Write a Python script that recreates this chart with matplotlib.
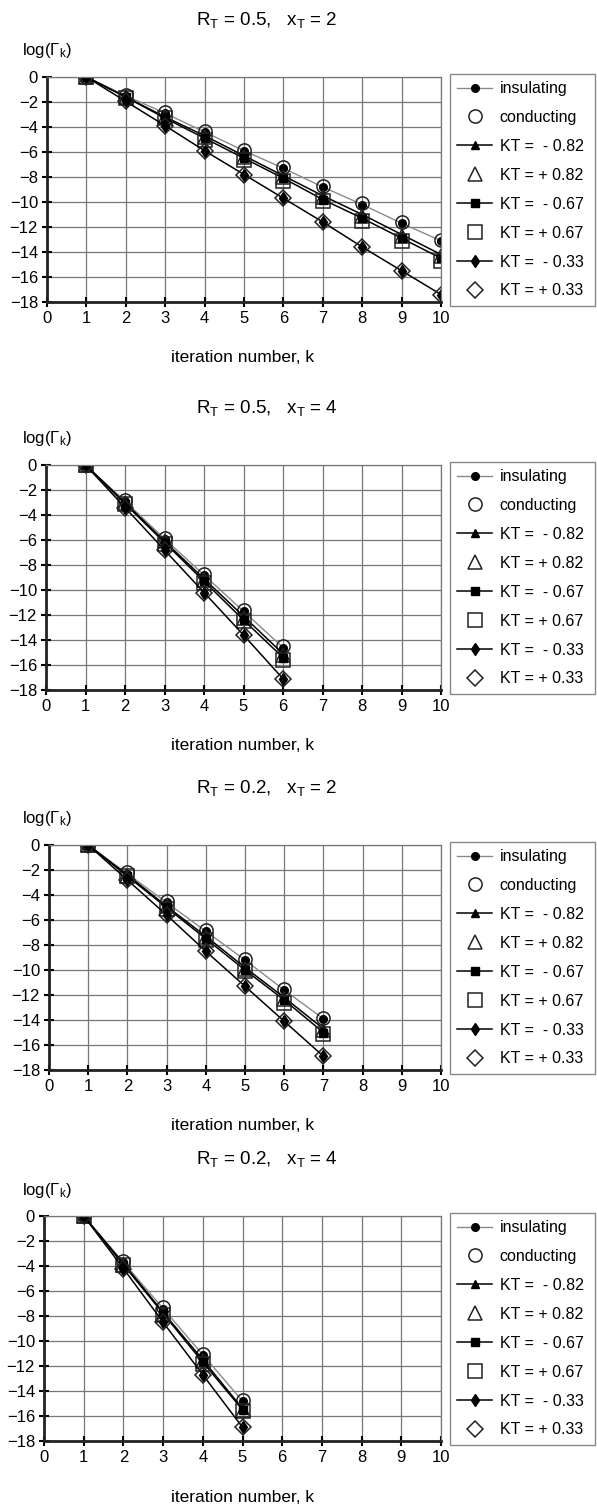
import matplotlib
matplotlib.use("Agg")
import matplotlib.pyplot as plt

plt.rcParams['font.family'] = ['Liberation Sans', 'DejaVu Sans']
plt.rcParams['mathtext.fontset'] = 'custom'
plt.rcParams['mathtext.rm'] = 'Liberation Sans'
plt.rcParams['mathtext.it'] = 'Liberation Sans'

# panel titles (R_T, x_T)
titles = [("0.5", "2"), ("0.5", "4"), ("0.2", "2"), ("0.2", "4")]

# log(Gamma_k) per iteration k = 1, 2, ... for each panel
insulating = [
    [0, -1.5, -2.9, -4.4, -5.9, -7.3, -8.8, -10.2, -11.7, -13.1],
    [0, -2.9, -5.9, -8.8, -11.7, -14.6],
    [0, -2.3, -4.6, -6.9, -9.2, -11.6, -13.9],
    [0, -3.7, -7.4, -11.1, -14.8],
]
conducting = [
    [0, -1.4, -2.8, -4.3, -5.8, -7.2, -8.7, -10.1, -11.6, -13.0],
    [0, -2.8, -5.8, -8.7, -11.6, -14.5],
    [0, -2.2, -4.5, -6.8, -9.1, -11.5, -13.8],
    [0, -3.6, -7.3, -11.0, -14.7],
]
kt_m082 = [
    [0, -1.6, -3.2, -4.7, -6.3, -7.9, -9.5, -11.0, -12.6, -14.2],
    [0, -3.0, -6.1, -9.1, -12.1, -15.1],
    [0, -2.4, -4.9, -7.3, -9.8, -12.2, -14.7],
    [0, -3.8, -7.7, -11.5, -15.4],
]
kt_p082 = [
    [0, -1.6, -3.2, -4.8, -6.4, -8.0, -9.6, -11.1, -12.7, -14.3],
    [0, -3.0, -6.1, -9.2, -12.2, -15.2],
    [0, -2.5, -4.9, -7.4, -9.9, -12.3, -14.8],
    [0, -3.9, -7.8, -11.6, -15.5],
]
kt_m067 = [
    [0, -1.6, -3.3, -4.9, -6.5, -8.1, -9.8, -11.3, -12.9, -14.5],
    [0, -3.1, -6.2, -9.3, -12.4, -15.4],
    [0, -2.5, -5.0, -7.5, -10.0, -12.4, -15.0],
    [0, -3.9, -7.8, -11.7, -15.5],
]
kt_p067 = [
    [0, -1.7, -3.3, -5.0, -6.6, -8.3, -9.9, -11.5, -13.1, -14.7],
    [0, -3.1, -6.3, -9.4, -12.5, -15.6],
    [0, -2.5, -5.1, -7.6, -10.1, -12.6, -15.1],
    [0, -3.9, -7.9, -11.8, -15.6],
]
kt_m033 = [
    [0, -1.95, -3.9, -5.9, -7.8, -9.7, -11.6, -13.6, -15.5, -17.4],
    [0, -3.4, -6.8, -10.2, -13.6, -17.1],
    [0, -2.8, -5.6, -8.5, -11.3, -14.1, -16.9],
    [0, -4.2, -8.5, -12.7, -16.9],
]
kt_p033 = [
    [0, -1.95, -3.9, -5.9, -7.8, -9.7, -11.6, -13.6, -15.5, -17.4],
    [0, -3.4, -6.8, -10.2, -13.6, -17.1],
    [0, -2.8, -5.6, -8.5, -11.3, -14.1, -16.9],
    [0, -4.2, -8.5, -12.7, -16.9],
]

labels = ["insulating", "conducting", "KT =  - 0.82", "KT = + 0.82",
          "KT =  - 0.67", "KT = + 0.67", "KT =  - 0.33", "KT = + 0.33"]

W, H = 597, 1508
fig = plt.figure(figsize=(W / 100, H / 100), dpi=100)


def fx(px): return px / W


def fy(py): return 1 - py / H


# pixel layout of the four panels (top of plot area, left edge)
panel_top = [77, 465, 845, 1216]
panel_left = [47, 46, 49, 44]

for i in range(4):
    top = panel_top[i]
    bot = top + 225
    left = panel_left[i]
    ax = fig.add_axes([fx(left), fy(bot), fx(441) - fx(left), fy(top) - fy(bot)])

    k = list(range(1, len(insulating[i]) + 1))
    series = [
        (insulating[i], dict(color="#8a8a8a", lw=1.0, marker="o", ms=5.5, mfc="black", mec="black")),
        (conducting[i], dict(ls="none", marker="o", ms=9.5, mfc="none", mec="#222222", mew=1.1)),
        (kt_m082[i], dict(color="black", lw=1.1, marker="^", ms=6, mfc="black", mec="black")),
        (kt_p082[i], dict(ls="none", marker="^", ms=9.5, mfc="none", mec="#222222", mew=1.1)),
        (kt_m067[i], dict(color="black", lw=1.1, marker="s", ms=5.5, mfc="black", mec="black")),
        (kt_p067[i], dict(ls="none", marker="s", ms=9.5, mfc="none", mec="#222222", mew=1.1)),
        (kt_m033[i], dict(color="black", lw=1.1, marker="d", ms=6, mfc="black", mec="black")),
        (kt_p033[i], dict(ls="none", marker="D", ms=8.5, mfc="none", mec="#222222", mew=1.1)),
    ]
    handles = []
    for vals, st in series:
        h, = ax.plot(k, vals, **st)
        handles.append(h)

    ax.set_xlim(0, 10)
    ax.set_ylim(-18, 0)
    ax.set_xticks(range(0, 11))
    ax.set_yticks(range(-18, 1, 2))
    ax.grid(True, color="#777777", lw=0.9)
    ax.set_axisbelow(True)
    for s in ["top", "right"]:
        ax.spines[s].set_color("#777777")
        ax.spines[s].set_linewidth(0.9)
    for s in ["left", "bottom"]:
        ax.spines[s].set_color("#222222")
        ax.spines[s].set_linewidth(2.0)
    ax.tick_params(direction="inout", length=7, width=1.5, labelsize=12, pad=3)

    r, x = titles[i]
    fig.text(fx(267), fy(top - 57), r"R$_\mathrm{T}$ = %s,   x$_\mathrm{T}$ = %s" % (r, x),
             ha="center", va="center", fontsize=13.5)
    fig.text(fx(22), fy(top - 26), r"log($\Gamma_\mathrm{k}$)", ha="left", va="center", fontsize=12)
    fig.text(fx(243), fy(bot + 56), "iteration number, k", ha="center", va="center", fontsize=12.5)

    leg = ax.legend(handles, labels, loc="upper left",
                    bbox_to_anchor=(fx(450), fy(top - 3), fx(595) - fx(450), 0.0),
                    bbox_transform=fig.transFigure, mode="expand",
                    fontsize=11.5, labelspacing=0.87, handlelength=2.2, handletextpad=0.45,
                    borderpad=0.45, borderaxespad=0, fancybox=False, framealpha=1,
                    edgecolor="#888888")
    leg.get_frame().set_linewidth(1.0)

fig.savefig("out.png", dpi=100)
